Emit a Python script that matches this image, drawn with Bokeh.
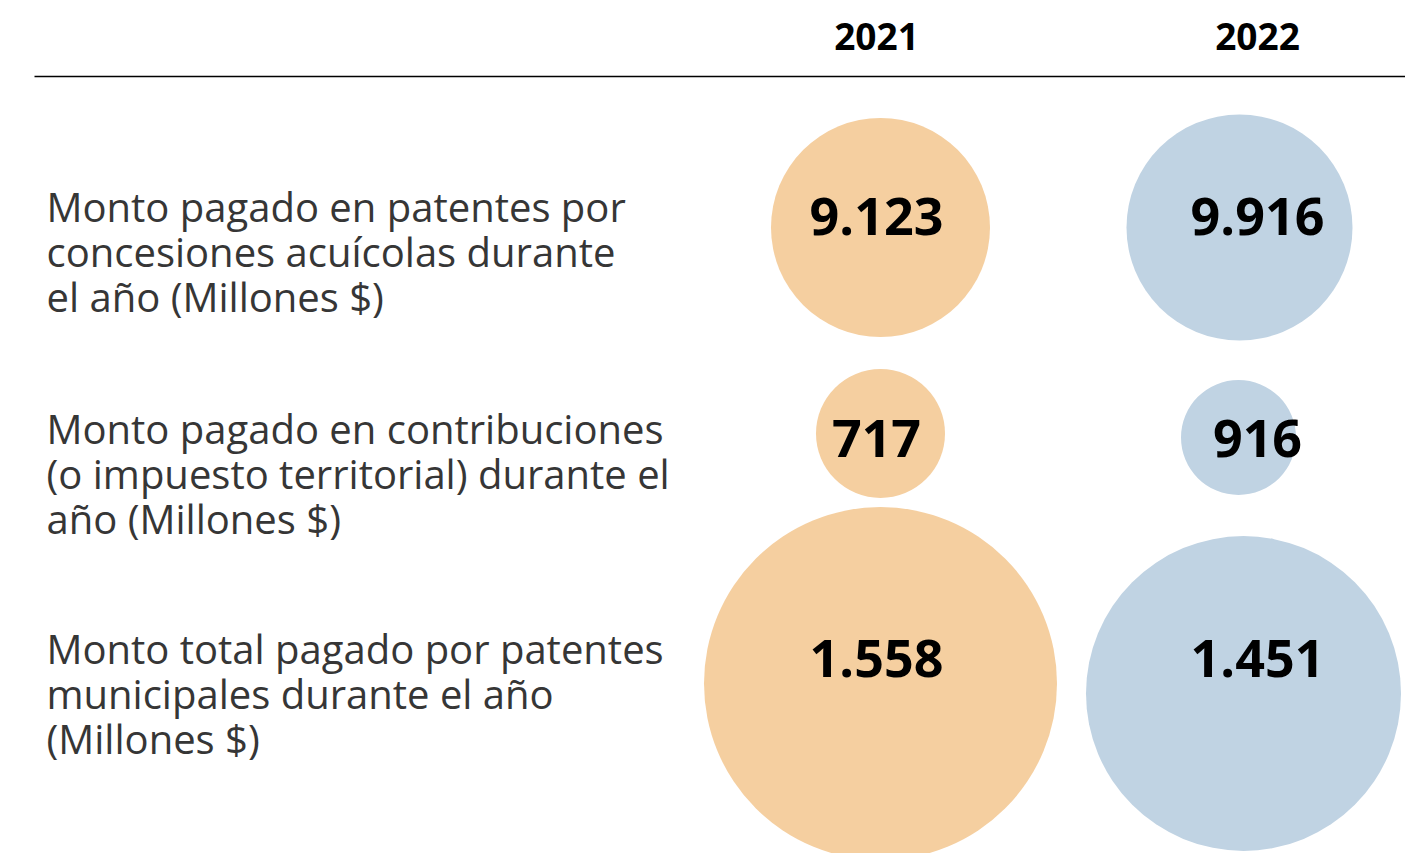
from bokeh.plotting import figure
from bokeh.models import Range1d
from bokeh.core.properties import value
from bokeh.embed import file_html
from bokeh.resources import INLINE

# ---- data ----
years = ["2021", "2022"]
row_labels = [
    "Monto pagado en patentes por\nconcesiones acuícolas durante\nel año (Millones $)",
    "Monto pagado en contribuciones\n(o impuesto territorial) durante el\naño (Millones $)",
    "Monto total pagado por patentes\nmunicipales durante el año\n(Millones $)",
]
values_2021 = [9123, 717, 1558]
values_2022 = [9916, 916, 1451]

# ---- styles / layout ----
W, H = 1405, 853
ORANGE = "#F5CFA0"
BLUE = "#C0D3E3"
LABEL_COLOR = "#363636"
col_text_x = [876, 1257]
row_text_y = [216, 438, 658]
bubble_x = [[880, 880, 880], [1239, 1238, 1243]]
bubble_y = [[227, 433, 683], [227, 437, 693]]
bubble_d = [[219, 129, 353], [226, 115, 315]]
label_x = 46
label_y0 = [206, 428, 648]
line_h = 45


def fmt(v):
    return f"{v:,}".replace(",", ".")


p = figure(width=W, height=H, output_backend="svg", toolbar_location=None,
           x_range=Range1d(0, W), y_range=Range1d(H, 0),
           min_border=0, outline_line_color=None)
p.axis.visible = False
p.grid.visible = False

# header line
p.segment(x0=[34], y0=[76], x1=[1405], y1=[76], line_color="black", line_width=1.5)

# headers
p.text(x=col_text_x, y=[36, 36], text=years, text_font=value("Open Sans"),
       text_font_style="bold", text_font_size="37px", text_color="black",
       text_align="center", text_baseline="middle")

# bubbles
colors = [ORANGE, BLUE]
all_vals = [values_2021, values_2022]
for j in range(2):
    p.circle(x=bubble_x[j], y=bubble_y[j], radius=[d / 2 for d in bubble_d[j]],
             fill_color=colors[j], line_color=None)
    p.text(x=[col_text_x[j]] * 3, y=row_text_y, text=[fmt(v) for v in all_vals[j]],
           text_font=value("Open Sans"), text_font_style="bold", text_font_size="52px",
           text_color="black", text_align="center", text_baseline="middle")

# row labels
lx, ly, lt = [], [], []
for i, lab in enumerate(row_labels):
    for k, line in enumerate(lab.split("\n")):
        lx.append(label_x)
        ly.append(label_y0[i] + k * line_h)
        lt.append(line)
p.text(x=lx, y=ly, text=lt, text_font=value("Open Sans"), text_font_size="40px",
       text_color=LABEL_COLOR, text_align="left", text_baseline="middle")

open("out.html", "w").write(file_html(p, INLINE))
